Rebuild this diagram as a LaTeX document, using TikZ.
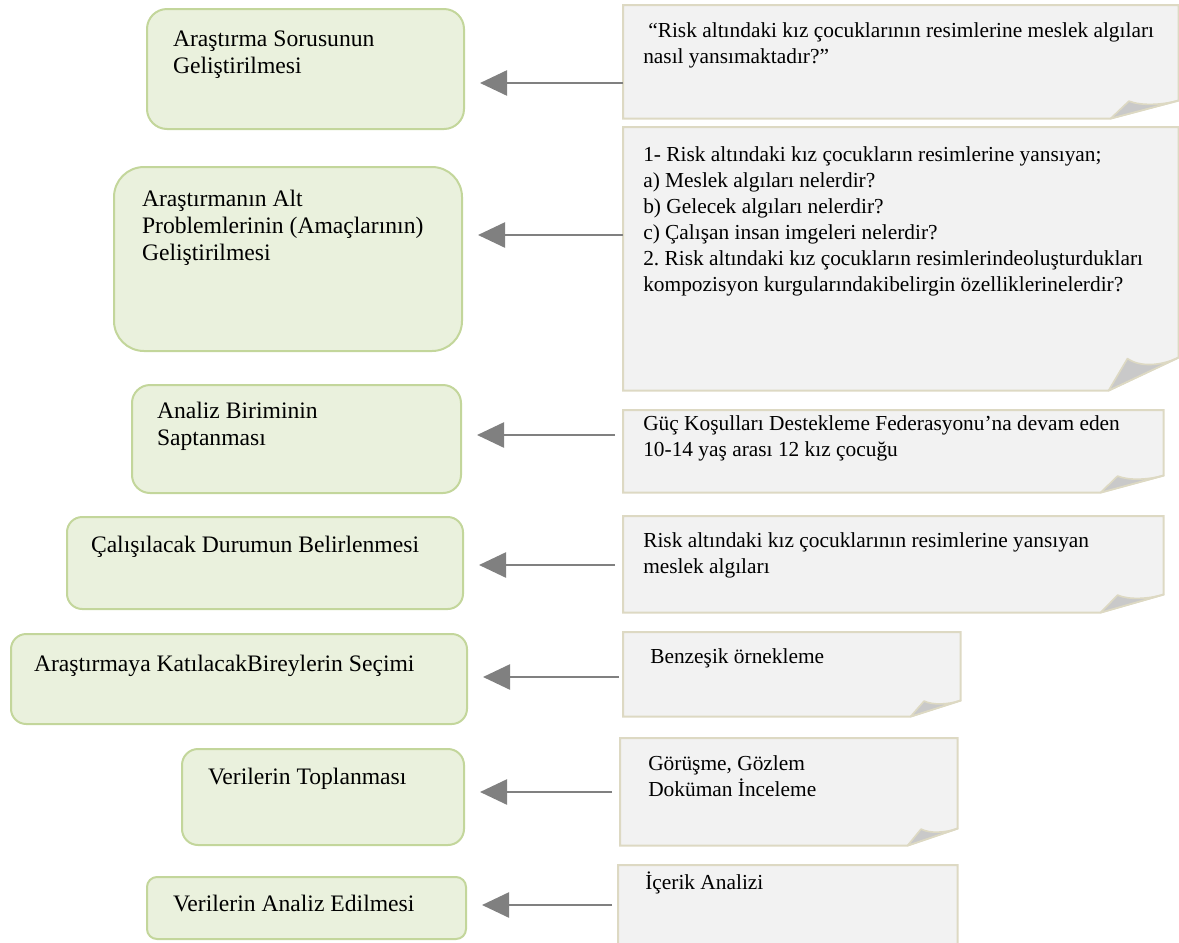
\documentclass[tikz,border=0pt]{standalone}
\usepackage{fontspec}
\setmainfont{Liberation Serif}
\usepackage{tikz}
\usetikzlibrary{calc,arrows.meta,backgrounds}
\definecolor{gfill}{HTML}{EAF1DD}
\definecolor{gline}{HTML}{C3D69B}
\definecolor{nfill}{HTML}{F2F2F2}
\definecolor{nline}{HTML}{DDD9C3}
\definecolor{nfold}{HTML}{C9C9C9}
\definecolor{agray}{HTML}{808080}
\frenchspacing
\newlength{\pxu}
\setlength{\pxu}{0.025cm}
% width, height, top gap, left gap, text
\newcommand{\boxtext}[5]{\parbox[c][#2\pxu][t]{#1\pxu}{\vspace*{#3\pxu}\raggedright\leftskip=#4\pxu\strut #5}}

\begin{document}
\begin{tikzpicture}[x=0.025cm, y=-0.025cm,
    font=\fontsize{15.2}{18.5}\selectfont,
    gbox/.style={rectangle, draw=gline, fill=gfill, line width=0.05cm, rounded corners=#1, anchor=north west, inner sep=0pt, font=\fontsize{16.8}{19.2}\selectfont},
    nbox/.style={rectangle, anchor=north west, inner sep=0pt},
    nbody/.style={draw=nline, fill=nfill, line width=0.05cm},
    nflap/.style={draw=nline, fill=nfold, line width=0.04cm, line join=round},
    arr/.style={draw=agray, line width=0.0625cm, -{Triangle[length=0.675cm, width=0.625cm]}, shorten >=0.375cm}
    ]
    \useasboundingbox (0,0) rectangle (1179,942);
    % left column
    \node[gbox=0.5cm] (g1) at (146,8) {\boxtext{317}{120}{19}{26}{Araştırma Sorusunun\\Geliştirilmesi}};
    \node[gbox=0.75cm] (g2) at (113,166) {\boxtext{348}{184}{21}{28}{Araştırmanın Alt\\Problemlerinin (Amaçlarının)\\Geliştirilmesi}};
    \node[gbox=0.45cm] (g3) at (131,384) {\boxtext{329}{108}{15}{25}{Analiz Biriminin\\Saptanması}};
    \node[gbox=0.38cm] (g4) at (66,516) {\boxtext{396}{92}{17}{24}{Çalışılacak Durumun Belirlenmesi}};
    \node[gbox=0.38cm] (g5) at (10,633) {\boxtext{456}{90}{19}{23}{Araştırmaya KatılacakBireylerin Seçimi}};
    \node[gbox=0.4cm] (g6) at (181,748) {\boxtext{282}{96}{17}{26}{Verilerin Toplanması}};
    \node[gbox=0.25cm] (g7) at (146,876) {\boxtext{319}{62}{16}{26}{Verilerin Analiz Edilmesi}};
    % right column
    \node[nbox] (n1) at (623,5) {\boxtext{555}{113}{14}{20}{\hspace*{5\pxu}“Risk altındaki kız çocuklarının resimlerine meslek algıları\\nasıl yansımaktadır?”}};
    \node[nbox] (n2) at (623,127) {\boxtext{555}{263}{16}{20}{1- Risk altındaki kız çocukların resimlerine yansıyan;\\a) Meslek algıları nelerdir?\\b) Gelecek algıları nelerdir?\\c) Çalışan insan imgeleri nelerdir?\\2. Risk altındaki kız çocukların resimlerindeoluşturdukları\\kompozisyon kurgularındakibelirgin özelliklerinelerdir?}};
    \node[nbox] (n3) at (623,410) {\boxtext{540}{82}{2}{20}{Güç Koşulları Destekleme Federasyonu’na devam eden\\10-14 yaş arası 12 kız çocuğu}};
    \node[nbox] (n4) at (623,516) {\boxtext{540}{96}{13}{20}{Risk altındaki kız çocuklarının resimlerine yansıyan\\meslek algıları}};
    \node[nbox] (n5) at (623,632) {\boxtext{337}{84}{13}{27}{Benzeşik örnekleme}};
    \node[nbox] (n6) at (620,738) {\boxtext{337}{107}{14}{28}{Görüşme, Gözlem\\Doküman İnceleme}};
    \node[nbox] (n7) at (618,865) {\boxtext{339}{100}{6}{27}{İçerik Analizi}};
    % folded notes
    \begin{scope}[on background layer]
    \foreach \n/\fw/\fh in {n1/68/18, n2/70/33, n3/63/17, n4/63/18, n5/50/16, n6/50/17, n7/50/18} {
        \draw[nbody] (\n.north west) -- (\n.north east) -- ($(\n.south east)+(0,-\fh)$)
            -- ($(\n.south east)+(-\fw,0)$) -- (\n.south west) -- cycle;
        \draw[nflap] ($(\n.south east)+(-\fw,0)$) -- ($(\n.south east)+(-0.73*\fw,-0.97*\fh)$)
            .. controls ($(\n.south east)+(-0.55*\fw,-0.7*\fh)$) and ($(\n.south east)+(-0.25*\fw,-0.75*\fh)$) .. ($(\n.south east)+(0,-\fh)$) -- cycle;
    }
    \end{scope}
    % arrows
    \draw[arr] (n1.west |- 0,83) -- (g1.east |- 0,83);
    \draw[arr] (n2.west |- 0,235) -- (g2.east |- 0,235);
    \draw[arr, shorten <=0.2cm] (n3.west |- 0,435) -- (g3.east |- 0,435);
    \draw[arr, shorten <=0.2cm] (n4.west |- 0,565) -- (g4.east |- 0,565);
    \draw[arr, shorten <=0.1cm] (n5.west |- 0,677) -- (g5.east |- 0,677);
    \draw[arr, shorten <=0.2cm] (n6.west |- 0,792) -- (g6.east |- 0,792);
    \draw[arr, shorten <=0.15cm] (n7.west |- 0,905) -- (g7.east |- 0,905);
\end{tikzpicture}
\end{document}
